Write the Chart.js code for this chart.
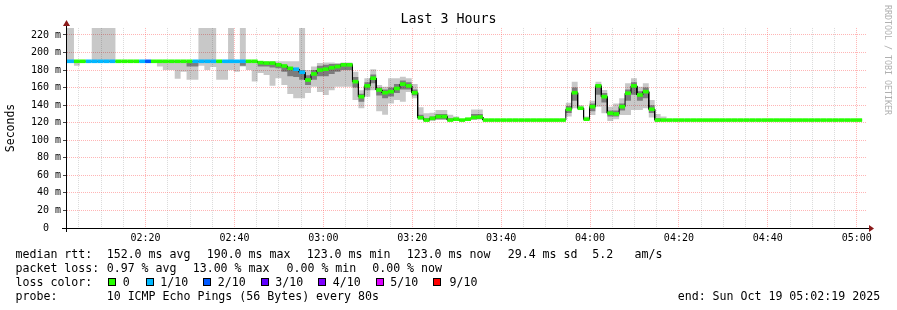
<!DOCTYPE html>
<html><head><meta charset="utf-8">
<script src="https://cdn.jsdelivr.net/npm/chart.js@4/dist/chart.umd.min.js"></script>
<style>
html,body{margin:0;padding:0;background:#fff;}
#wrap{position:relative;width:897px;height:310px;overflow:hidden;background:#fff;}
canvas{position:absolute;left:0;top:0;}
.t{position:absolute;font-family:'DejaVu Sans Mono',monospace;font-size:11.6px;line-height:14px;white-space:pre;color:#000;}
.sq{position:absolute;width:8px;height:8px;border:1px solid #000;box-sizing:border-box;}
#wm{position:absolute;left:882.5px;top:5px;writing-mode:vertical-rl;font-family:'DejaVu Sans Mono',monospace;font-size:8.3px;line-height:10px;color:#b0b0b0;white-space:pre;}
</style></head>
<body>
<div id="wrap">
<canvas id="c" width="897" height="310"></canvas>
<div id="wm">RRDTOOL / TOBI OETIKER</div>
<div class="t" style="left:15.5px;top:247px">median rtt:</div>
<div class="t" style="left:106.7px;top:247px">152.0 ms avg</div>
<div class="t" style="left:206.7px;top:247px">190.0 ms max</div>
<div class="t" style="left:306.7px;top:247px">123.0 ms min</div>
<div class="t" style="left:406.7px;top:247px">123.0 ms now</div>
<div class="t" style="left:507.7px;top:247px">29.4 ms sd</div>
<div class="t" style="left:592.2px;top:247px">5.2</div>
<div class="t" style="left:634.5px;top:247px">am/s</div>
<div class="t" style="left:15.5px;top:261px">packet loss:</div>
<div class="t" style="left:106.7px;top:261px">0.97 % avg</div>
<div class="t" style="left:192.7px;top:261px">13.00 % max</div>
<div class="t" style="left:286.5px;top:261px">0.00 % min</div>
<div class="t" style="left:372.2px;top:261px">0.00 % now</div>
<div class="t" style="left:15.5px;top:275px">loss color:</div>
<div id="losslegend"></div>
<div class="t" style="left:15.5px;top:289px">probe:</div>
<div class="t" style="left:106.7px;top:289px">10 ICMP Echo Pings (56 Bytes) every 80s</div>
<div class="t" style="left:677.7px;top:289px">end: Sun Oct 19 05:02:19 2025</div>
</div>
<script>
// ---- data ----
const GRAPH_START = '02:02:19';
const GRAPH_END = '05:02:19';
const FIRST_STEP = '02:03:53';
const STEP_SECONDS = 80;
const xTickLabels = ['02:20','02:40','03:00','03:20','03:40','04:00','04:20','04:40','05:00'];
const yTickValues = [0,20,40,60,80,100,120,140,160,180,200,220];
const yTickLabels = ['0  ','20 m','40 m','60 m','80 m','100 m','120 m','140 m','160 m','180 m','200 m','220 m'];
const lossLevels = [0,1,2,3,4,5,9];
const lossLabels = ['0','1/10','2/10','3/10','4/10','5/10','9/10'];
const lossColors = ['#26ff00','#00b8ff','#0059ff','#5e00ff','#7e00ff','#dd00ff','#ff0000'];

// median rtt (ms) per 80 s step
const median = [
190,190,190,190,190,190,190,190,190,190,
190,190,190,190,190,190,190,190,190,190,
190,190,190,190,190,190,190,190,190,190,
190,190,188.5,188,188,186,184.7,182,181,177.5,
168.7,175.6,180,181,182.7,184,186,186,166.8,149.7,
162,170.7,157.3,154.2,155.4,159,164,162,154.2,125.7,
123,125,127,127,123,124,123,124,126,126.5,
123,123,123,123,123,123,123,123,123,123,
123,123,123,123,135.3,154.2,136.5,124,138.3,162,
149.7,130.8,130,138.3,153.6,162,151.6,155.4,135.3,123,
123,123,123,123,123,123,123,123,123,123,
123,123,123,123,123,123,123,123,123,123,
123,123,123,123,123,123,123,123,123,123,
123,123,123,123];
// lost pings out of 10 per step
const loss = [
1,0,0,1,1,1,1,1,0,0,
0,0,1,2,0,0,0,0,0,0,
0,1,1,1,1,0,1,1,1,1,
0,0,0,0,0,0,0,0,1,1,
0,0,0,0,0,0,0,0,0,0,
0,0,0,0,0,0,0,0,0,0,
0,0,0,0,0,0,0,0,0,0,
0,0,0,0,0,0,0,0,0,0,
0,0,0,0,0,0,0,0,0,0,
0,0,0,0,0,0,0,0,0,0,
0,0,0,0,0,0,0,0,0,0,
0,0,0,0,0,0,0,0,0,0,
0,0,0,0,0,0,0,0,0,0,
0,0,0,0];
// slowest ping (ms) per step (above 228 = off the top)
const pingMax = [
240,190,190,190,240,240,240,240,190,190,
190,190,190,190,190,190,190,190,190,190,
190,190,240,240,240,190,190,240,190,240,
190,190,190,190,190,190,190,190,190,240,
180,184,188,188.5,188.5,188,188.5,188.5,178,157,
170.7,181,163,161,170.7,170.7,172.5,170.7,164,137.6,
130.8,131.5,134.5,134.5,129,127,124,125,135,135,
123,123,123,123,123,123,123,123,123,123,
123,123,123,123,142.8,166.8,140,127,145,166.8,
157.3,138.3,142,148,165,170.7,161,165,146,130,
127,123,123,123,123,123,123,123,123,123,
123,123,123,123,123,123,123,123,123,123,
123,123,123,123,123,123,123,123,123,123,
123,123,123,123];
// fastest ping (ms) per step
const pingMin = [
188,185,190,190,189,189,189,189,190,190,
190,190,190,190,188,184,180,180,170,178,
169,169,185,180,183.5,169,169,180,178,184,
180,167,176.7,174.4,162,170.7,163,152.8,148,148,
154,161,155,151.6,157,161,161,161,146,136.5,
149.7,157,133,129,142,146,144,155,148,124,
121,122,123,123,122,122,122,122,123,124,
123,123,123,123,123,123,123,123,123,123,
123,123,123,123,127,136.5,134.5,122,128.8,138.3,
130.8,122,124,128.8,128.8,134.5,134.5,136.5,126,121,
122,123,123,123,123,123,123,123,123,123,
123,123,123,123,123,123,123,123,123,123,
123,123,123,123,123,123,123,123,123,123,
123,123,123,123];
// inner (dense) smoke band per step, null = none
const innerLow = [
null,null,null,null,null,null,null,null,null,null,
null,null,null,null,null,null,null,null,null,null,
184,184,null,null,null,null,null,null,null,185,
null,null,184,184,183,182,178,173,172,169,
163,169,173,173,175.6,178,180,180,160,144,
157,165,151,148,150,154,158,158,151,124,
122,123,124,124,122,123,122,123,124,124,
null,null,null,null,null,null,null,null,null,null,
null,null,null,null,131,145,135,123,133,152,
143,127,127,134,145,152,145,148,131,122,
122,null,null,null,null,null,null,null,null,null,
null,null,null,null,null,null,null,null,null,null,
null,null,null,null,null,null,null,null,null,null,
null,null,null,null];
const innerHigh = [
null,null,null,null,null,null,null,null,null,null,
null,null,null,null,null,null,null,null,null,null,
188.5,188.5,null,null,null,null,null,null,null,189,
null,null,189,189,189,188,185,182,182,180,
174,180,185,186,187,187,188,188,172,153,
166,175,160,158,160,164,168,166,158,129,
125,127,130,130,125,125,124,125,130,130,
null,null,null,null,null,null,null,null,null,null,
null,null,null,null,139,160,138,125,142,164,
154,134,134,142,158,166,156,160,140,125,
124,null,null,null,null,null,null,null,null,null,
null,null,null,null,null,null,null,null,null,null,
null,null,null,null,null,null,null,null,null,null,
null,null,null,null];

// ---- helpers ----
function toMin(hms){ const p = hms.split(':').map(Number); return p[0]*60 + p[1] + (p[2]||0)/60 - 120; }
const xMin = toMin(GRAPH_START), xMax = toMin(GRAPH_END);
const firstStep = toMin(FIRST_STEP), stepMin = STEP_SECONDS/60;
function stepStart(s){ return s === 0 ? xMin : firstStep + (s-1)*stepMin; }
function stepEnd(s){ return firstStep + s*stepMin; }
function stepPoints(vals, fallback){
  const pts = [];
  vals.forEach((v, s) => {
    const y = (v === null || v === undefined) ? fallback[s] : v;
    pts.push({x: stepStart(s), y}); pts.push({x: stepEnd(s), y});
  });
  return pts;
}
function fmtMin(v){ const t = v + 120; const h = Math.floor(t/60), m = Math.round(t%60); return String(h).padStart(2,'0')+':'+String(m).padStart(2,'0'); }
function lossColor(n){ const i = lossLevels.indexOf(n); return lossColors[i >= 0 ? i : 0]; }

// loss legend
(function(){
  const sqX = [108,146,203,261,318,376,433];
  const lbX = [122.7,160.2,217.7,275.2,332.7,390.2,449.5];
  const box = document.getElementById('losslegend');
  lossLabels.forEach((lab, i) => {
    const q = document.createElement('div'); q.className = 'sq';
    q.style.left = sqX[i] + 'px'; q.style.top = '278px'; q.style.background = lossColors[i];
    box.appendChild(q);
    const t = document.createElement('div'); t.className = 't';
    t.style.left = lbX[i] + 'px'; t.style.top = '275px'; t.textContent = lab;
    box.appendChild(t);
  });
})();

const FONT = "'DejaVu Sans Mono', monospace";
const MAJOR = 'rgba(255,90,90,0.45)', MINOR = 'rgba(150,150,150,0.35)';
const xGrid = []; for (let v = 5; v <= 180; v += 5) xGrid.push(v);
const yGrid = []; for (let v = 0; v <= 220; v += 10) yGrid.push(v);

const axesPlugin = {
  id: 'rrdAxes',
  afterDatasetsDraw(chart){
    const {ctx, chartArea: a} = chart;
    ctx.save();
    ctx.fillStyle = '#000';
    ctx.fillRect(62, a.bottom, a.right + 2 - 62, 1);
    ctx.fillRect(a.left - 1, 25, 1, a.bottom + 4 - 25);
    ctx.fillStyle = '#8b1a1a';
    ctx.beginPath(); ctx.moveTo(a.right + 2, a.bottom - 3); ctx.lineTo(a.right + 7, a.bottom + 0.5); ctx.lineTo(a.right + 2, a.bottom + 4); ctx.closePath(); ctx.fill();
    ctx.beginPath(); ctx.moveTo(a.left - 4, 26); ctx.lineTo(a.left - 0.5, 20); ctx.lineTo(a.left + 3, 26); ctx.closePath(); ctx.fill();
    ctx.restore();
  }
};

const none = 'rgba(0,0,0,0)';
const base = {pointRadius: 0, borderColor: none, borderWidth: 0, tension: 0};
new Chart(document.getElementById('c'), {
  type: 'line',
  data: { datasets: [
    Object.assign({}, base, {label: 'min', data: stepPoints(pingMin, median), fill: false, order: 6}),
    Object.assign({}, base, {label: 'max', data: stepPoints(pingMax, median), fill: '-1', backgroundColor: 'rgba(0,0,0,0.215)', order: 5}),
    Object.assign({}, base, {label: 'inner low', data: stepPoints(innerLow, median), fill: false, order: 4}),
    Object.assign({}, base, {label: 'inner high', data: stepPoints(innerHigh, median), fill: '-1', backgroundColor: 'rgba(0,0,0,0.38)', order: 3}),
    {label: 'median', data: stepPoints(median, median), pointRadius: 0, borderColor: '#000', borderWidth: 1, fill: false, order: 2},
    {label: 'median loss', data: stepPoints(median, median), pointRadius: 0, borderWidth: 3.6, fill: false, order: 1,
      borderCapStyle: 'butt',
      segment: { borderColor: (c) => (c.p0DataIndex % 2) ? none : lossColor(loss[c.p0DataIndex/2]) }}
  ]},
  plugins: [axesPlugin],
  options: {
    responsive: false, animation: false, devicePixelRatio: 1,
    layout: {padding: {left: 0, right: 0, top: 0, bottom: 0}},
    plugins: {
      legend: {display: false}, tooltip: {enabled: false},
      title: {display: true, text: 'Last 3 Hours', color: '#000', font: {family: FONT, size: 13.3, weight: 'normal', lineHeight: 1.2}, padding: {top: 12, bottom: 0}}
    },
    scales: {
      x: {
        type: 'linear', min: xMin, max: xMax,
        afterBuildTicks: (s) => { s.ticks = xGrid.map(v => ({value: v})); },
        afterFit: (s) => { s.height = 82; },
        ticks: {autoSkip: false, maxRotation: 0, padding: 4, color: '#000', font: {family: FONT, size: 10},
          callback: (v) => { const l = fmtMin(v); return xTickLabels.includes(l) ? l : ''; }},
        grid: {drawTicks: false, lineWidth: 1, color: (c) => (c.tick && c.tick.value % 20 === 0) ? MAJOR : MINOR},
        border: {display: false, dash: [1,1]}
      },
      y: {
        min: 0, max: 228,
        afterBuildTicks: (s) => { s.ticks = yGrid.map(v => ({value: v})); },
        afterFit: (s) => { s.width = 67; },
        title: {display: true, text: 'Seconds', color: '#000', font: {family: FONT, size: 11.5}, padding: {top: 4, bottom: 4}},
        ticks: {padding: 2, color: '#000', font: {family: FONT, size: 10},
          callback: (v) => { const i = yTickValues.indexOf(v); return i >= 0 ? yTickLabels[i] : ''; }},
        grid: {drawTicks: true, tickLength: 4, lineWidth: 1,
          color: (c) => (c.tick && c.tick.value % 20 === 0) ? MAJOR : MINOR,
          tickColor: (c) => (c.tick && c.tick.value % 20 === 0) ? '#444' : '#bbb'},
        border: {display: false, dash: [1,1]}
      },
      yRight: {
        position: 'right', display: true, min: 0, max: 1,
        afterFit: (s) => { s.width = 30; },
        ticks: {display: false}, grid: {display: false, drawTicks: false}, border: {display: false}
      }
    }
  }
});
</script>
</body></html>
